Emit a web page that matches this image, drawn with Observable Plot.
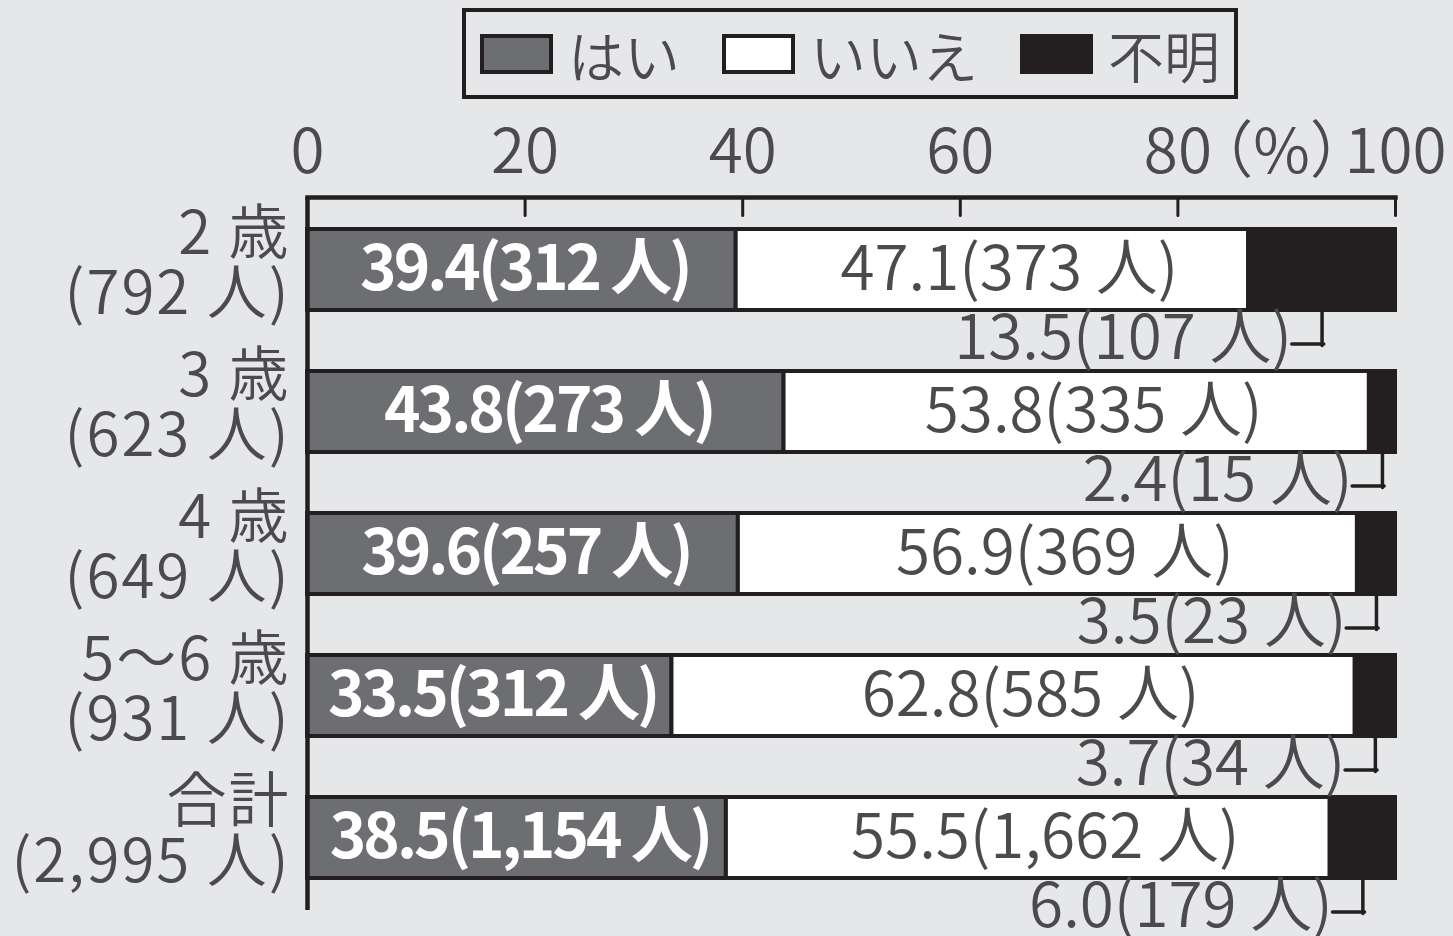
<!DOCTYPE html>
<html lang="ja">
<head>
<meta charset="utf-8">
<script src="https://cdn.jsdelivr.net/npm/d3@7"></script>
<script src="https://cdn.jsdelivr.net/npm/@observablehq/plot@0.6"></script>
<style>
  html, body { margin: 0; padding: 0; background: #e6e7e8; }
  body { font-family: "Noto Sans CJK JP", "Noto Sans", sans-serif; color: #4b4b4d; }
  #wrap { position: relative; width: 1453px; height: 936px; overflow: hidden; }
  #legend {
    position: absolute; left: 462px; top: 8px; width: 776px; height: 91px;
    box-sizing: border-box; border: 4px solid #231f20;
    display: flex; align-items: center; padding-left: 14px;
    font-size: 56px; line-height: 1; font-weight: 350; white-space: nowrap;
  }
  .item { display: flex; align-items: center; margin-right: 42px; flex: 0 0 auto; }
  .item:last-child { margin-right: 0; }
  .sw { width: 73px; height: 40px; box-sizing: border-box; border: 4px solid #231f20; margin-right: 15px; flex: 0 0 auto; }
  #chart { position: absolute; left: 0; top: 105px; }
  #chart g[fill="white"] { letter-spacing: -3px; }
  #chart g[font-size="60"] { letter-spacing: 2px; }
</style>
</head>
<body>
<div id="wrap">
  <div id="legend"></div>
  <div id="chart"></div>
</div>
<script>
// ---- data ----
const ages = ["2 歳", "3 歳", "4 歳", "5～6 歳", "合計"];
const totals = [792, 623, 649, 931, 2995];
const categories = ["はい", "いいえ", "不明"];
const colors = ["#6d6e71", "#ffffff", "#231f20"];
const yesPct = [39.4, 43.8, 39.6, 33.5, 38.5];
const yesN = [312, 273, 257, 312, 1154];
const noPct = [47.1, 53.8, 56.9, 62.8, 55.5];
const noN = [373, 335, 369, 585, 1662];
const unkPct = [13.5, 2.4, 3.5, 3.7, 6.0];
const unkN = [107, 15, 23, 34, 179];
const xTicks = [0, 20, 40, 60, 80, 100];
const unitLabel = "（%）";

// ---- derived table ----
const fmtN = d3.format(",");
const rows = ages.map((a, i) => `${a}\n(${fmtN(totals[i])} 人)`);
const pcts = [yesPct, noPct, unkPct];
const counts = [yesN, noN, unkN];
const table = [];
rows.forEach((r, i) => {
  let c = 0;
  categories.forEach((cat, j) => {
    const v = pcts[j][i];
    table.push({
      row: r, cat, value: v, x1: c, x2: c + v, mid: c + v / 2,
      label: `${v.toFixed(1)}(${fmtN(counts[j][i])} 人)`
    });
    c += v;
  });
});
const yes = table.filter(d => d.cat === categories[0]);
const no = table.filter(d => d.cat === categories[1]);
const unk = table.filter(d => d.cat === categories[2]);

// ---- legend ----
const legend = document.getElementById("legend");
categories.forEach((c, i) => {
  const it = document.createElement("div");
  it.className = "item";
  const sw = document.createElement("div");
  sw.className = "sw";
  sw.style.background = colors[i];
  const t = document.createElement("span");
  t.textContent = c;
  it.append(sw, t);
  legend.append(it);
});

// ---- chart ----
const ink = "#231f20";
const textColor = "#4b4b4d";
const chart = Plot.plot({
  width: 1453,
  height: 831,
  marginTop: 92,
  marginLeft: 307,
  marginRight: 58,
  marginBottom: 26,
  style: { fontFamily: '"Noto Sans CJK JP", "Noto Sans", sans-serif', fontSize: "62px", fontWeight: 350, color: textColor, background: "transparent", overflow: "visible" },
  x: { domain: [0, 100], axis: null },
  y: { domain: rows, paddingInner: 0.43, paddingOuter: 0.225, axis: null },
  color: { domain: categories, range: colors },
  marks: [
    Plot.barX(table, { x1: "x1", x2: "x2", y: "row", fill: "cat", stroke: ink, strokeWidth: 4 }),
    Plot.frame({ anchor: "top", stroke: ink, strokeWidth: 4.5 }),
    Plot.ruleX([0], { stroke: ink, strokeWidth: 4.5 }),
    Plot.vector(xTicks.slice(1), { x: d => d, frameAnchor: "top", length: 18, rotate: 180, anchor: "start", shape: "spike", r: 0, stroke: ink, strokeWidth: 3 }),
    Plot.text(xTicks, { x: d => d, frameAnchor: "top", dy: -44, text: d => String(d), fill: textColor, lineAnchor: "middle" }),
    Plot.text([unitLabel], { x: 100, frameAnchor: "top", dy: -44, dx: -114, text: d => d, fill: textColor, lineAnchor: "middle" }),
    Plot.text(rows, { x: 0, y: d => d, text: d => d, dx: -17, dy: -5, textAnchor: "end", lineHeight: 1.0, fontSize: 60, fill: textColor }),
    Plot.text(yes, { x: "mid", y: "row", text: "label", fill: "white", fontWeight: 700, dx: 3 }),
    Plot.text(no, { x: "mid", y: "row", text: "label", fill: textColor, dx: 17 }),
    Plot.text(unk, { x: "mid", y: "row", text: "label", fill: textColor, textAnchor: "end", dx: -30, dy: 69 }),
    Plot.vector(unk, { x: "mid", y: "row", dy: 40.5, length: 35, rotate: 180, anchor: "start", shape: "spike", r: 0, stroke: ink, strokeWidth: 3.5 }),
    Plot.vector(unk, { x: "mid", y: "row", dy: 74, dx: 1.7, length: 32, rotate: 270, anchor: "start", shape: "spike", r: 0, stroke: ink, strokeWidth: 3.5 })
  ]
});
document.getElementById("chart").append(chart);
</script>
</body>
</html>
